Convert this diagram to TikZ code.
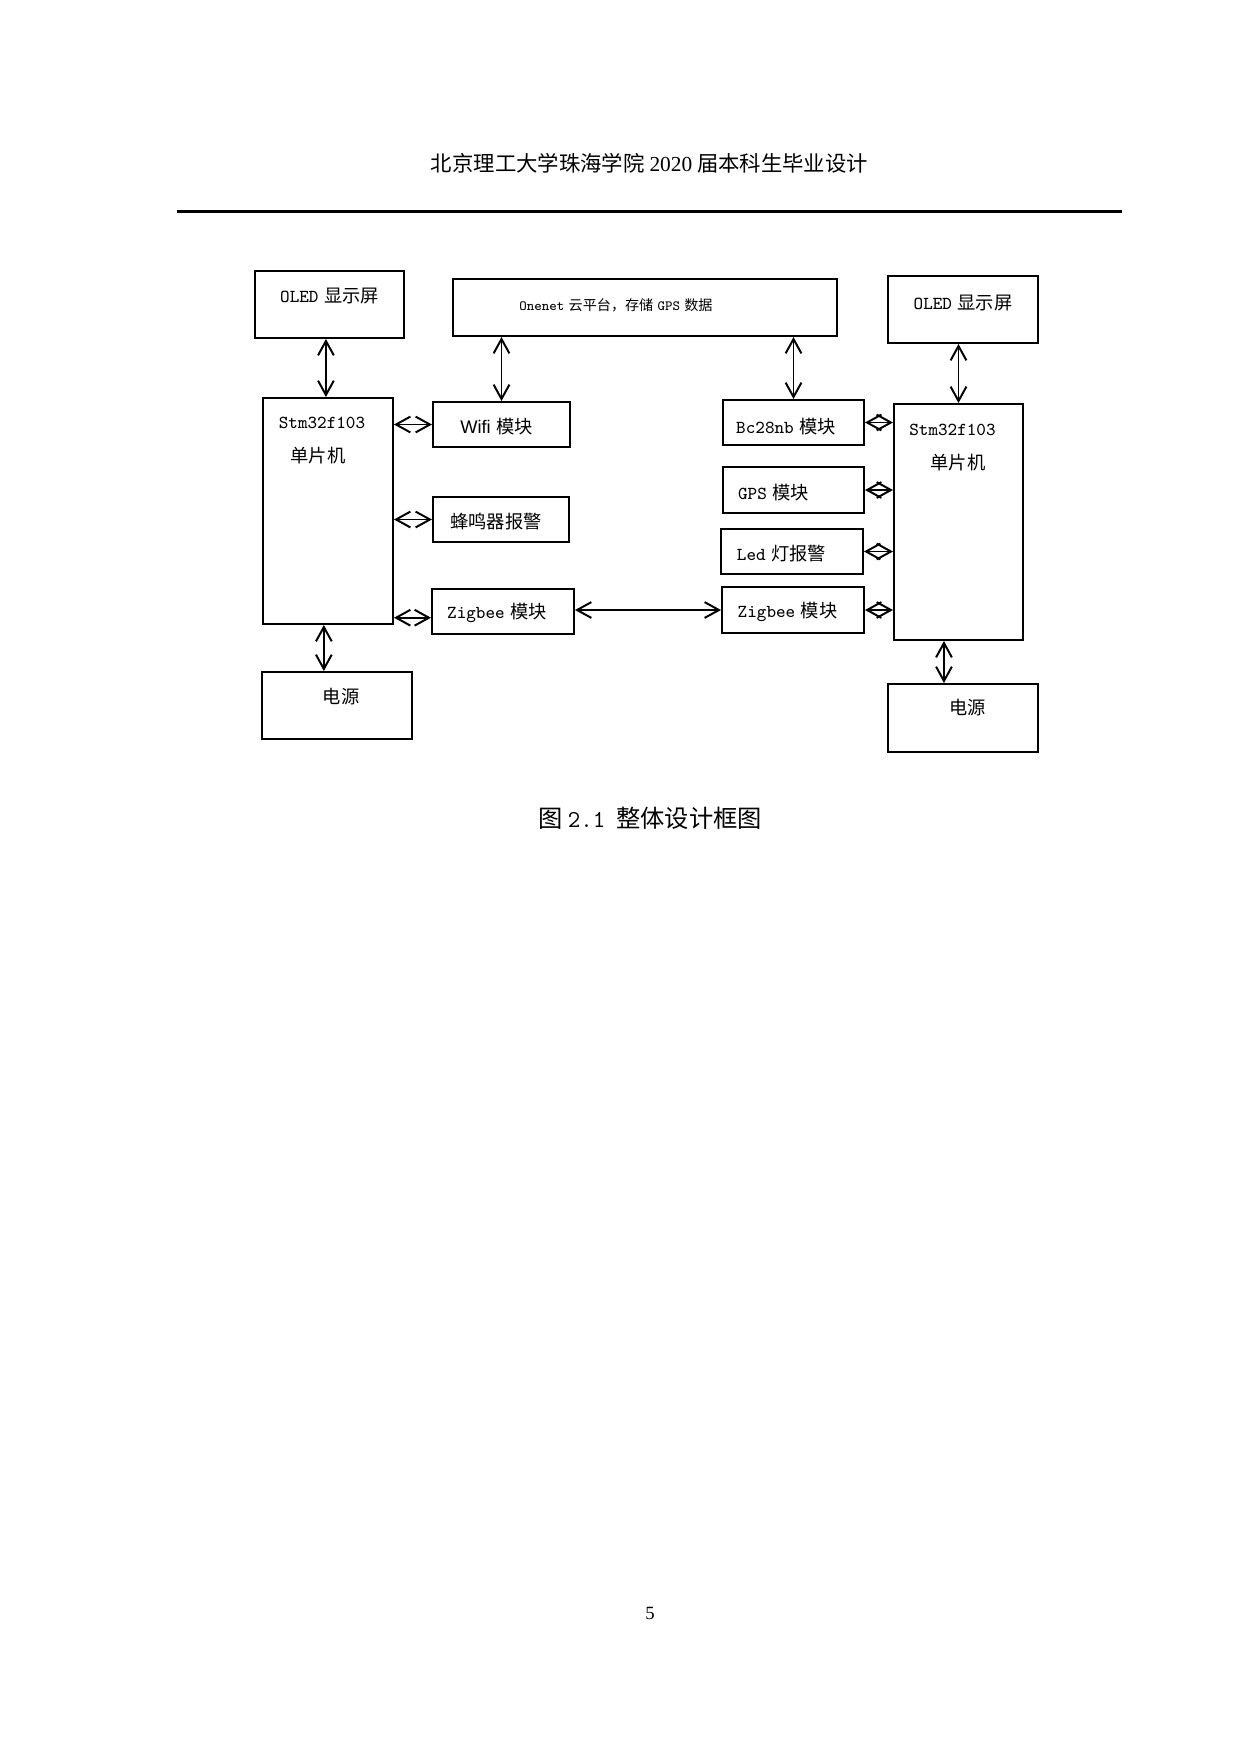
\documentclass[tikz,border=0pt]{standalone}
\usepackage{fontspec}
\newfontfamily\cjk{Noto Sans CJK SC}
\newfontfamily\serifnum{Liberation Serif}
\newfontfamily\sanslat{Liberation Sans}
\usetikzlibrary{arrows.meta,fit}
\newcommand{\gap}{\hspace{0.3em}}
\tikzset{
  box/.style={draw, line width=0.95pt, inner sep=0pt},
  txt/.style={inner sep=0pt, font=\fontsize{8.8}{10}\selectfont},
  link/.style={line width=0.95pt, {Straight Barb[length=6.9pt,width=7.6pt]}-{Straight Barb[length=6.9pt,width=7.6pt]}}
}
\begin{document}
\begin{tikzpicture}[x=0.16933mm, y=-0.16933mm]
\useasboundingbox (0,0) rectangle (1240,1754);

%page header
\node[inner sep=0pt, font=\fontsize{10.3}{12}\selectfont] (head) at (649.5,163) {\cjk 北京理工大学珠海学院\ {\serifnum 2020}\ 届本科生毕业设计};
\coordinate (ruleL) at (177,211.5);
\coordinate (ruleR) at (1122,211.5);
\draw[line width=1pt] (ruleL) -- (ruleR);

%left side
\node[box, fit={(255,271) (404,338)}] (oledL) {};
\node[txt] (oledLt) at (329.5,296) {\ttfamily OLED\gap{\cjk 显示屏}};
\node[box, fit={(263,398) (393,624)}] (stmL) {};
\node[txt] (stmLa) at (322,423) {\ttfamily Stm32f103};
\node[txt] (stmLb) at (318,456) {\cjk 单片机};
\node[box, fit={(262,672) (412,739)}] (powL) {};
\node[txt] (powLt) at (341,697) {\cjk 电源};

\node[box, fit={(433,402) (570,447)}] (wifi) {};
\node[txt] (wifit) at (496.5,427) {\sanslat Wifi\gap{\cjk 模块}};
\node[box, fit={(433,497) (569,542)}] (buzz) {};
\node[txt] (buzzt) at (496,522) {\cjk 蜂鸣器报警};
\node[box, fit={(432,589) (574,634)}] (zigL) {};
\node[txt] (zigLt) at (497,613) {\ttfamily Zigbee\gap{\cjk 模块}};

%cloud
\node[box, fit={(453,279) (837,336)}] (onenet) {};
\node[txt, font=\fontsize{6.8}{8}\selectfont] (onenett) at (616,305) {\ttfamily Onenet\gap{\cjk 云平台，存储}\gap GPS\gap{\cjk 数据}};

%right side
\node[box, fit={(888,276) (1038,343)}] (oledR) {};
\node[txt] (oledRt) at (963,303) {\ttfamily OLED\gap{\cjk 显示屏}};
\node[box, fit={(894,404) (1023,640)}] (stmR) {};
\node[txt] (stmRa) at (952.5,430) {\ttfamily Stm32f103};
\node[txt] (stmRb) at (958,463) {\cjk 单片机};
\node[box, fit={(888,684) (1038,752)}] (powR) {};
\node[txt] (powRt) at (967.5,708) {\cjk 电源};

\node[box, fit={(723,400) (864,445)}] (bc) {};
\node[txt] (bct) at (786,427) {\ttfamily Bc28nb\gap{\cjk 模块}};
\node[box, fit={(723,467) (864,513)}] (gps) {};
\node[txt] (gpst) at (773.5,493) {\ttfamily GPS\gap{\cjk 模块}};
\node[box, fit={(721,529) (863,574)}] (led) {};
\node[txt] (ledt) at (781.5,554) {\ttfamily Led\gap{\cjk 灯报警}};
\node[box, fit={(722,587) (864,633)}] (zigR) {};
\node[txt] (zigRt) at (787.5,612) {\ttfamily Zigbee\gap{\cjk 模块}};

%connections
\draw[link] ([xshift=-1]oledL.south -| stmL.north) -- ([xshift=-1]stmL.north);
\draw[link] (stmL.east |- wifi.west) -- (wifi.west);
\draw[link] (stmL.east |- buzz.west) -- (buzz.west);
\draw[link] ([yshift=-3]stmL.east |- zigL.west) -- ([yshift=-3]zigL.west);
\draw[link] ([xshift=-2]stmL.south) -- ([xshift=-2]stmL.south |- powL.north);
\draw[link] (wifi.north |- onenet.south) -- (wifi.north);
\draw[link] (bc.north |- onenet.south) -- (bc.north);
\draw[link] (zigR.west -| zigL.east) -- (zigR.west);

\draw[link] (oledR.south -| stmR.north) -- (stmR.north);
\draw[link] (bc.east) -- (bc.east -| stmR.west);
\draw[link] (gps.east) -- (gps.east -| stmR.west);
\draw[link] (led.east) -- (led.east -| stmR.west);
\draw[link] (zigR.east) -- (zigR.east -| stmR.west);
\draw[link] ([xshift=-7]stmR.south) -- ([xshift=-7]stmR.south |- powR.north);

%caption and page number
\node[inner sep=0pt, font=\fontsize{11.7}{14}\selectfont] (cap) at (650,818) {\cjk 图\ {\ttfamily 2.1}\ \ 整体设计框图};
\node[inner sep=0pt, font=\fontsize{9}{11}\selectfont] (pnum) at (650,1613) {\serifnum 5};
\end{tikzpicture}
\end{document}
